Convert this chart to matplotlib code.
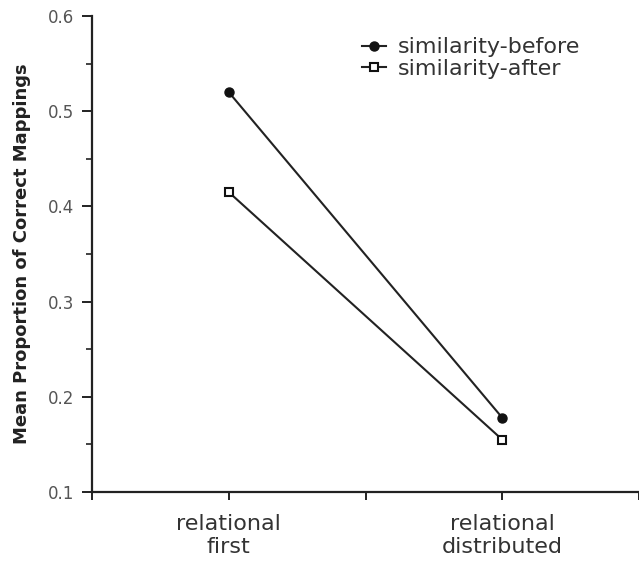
import matplotlib
matplotlib.use("Agg")
from matplotlib import pyplot as plt
import numpy as np

conditions = ["relational\nfirst", "relational\ndistributed"]
sim_before = [0.52, 0.178]
sim_after = [0.415, 0.155]

fig = plt.figure(figsize=(6.39, 5.63), dpi=100)
ax = fig.add_axes([0.144, 0.1261, 0.856, 0.8455])

xs = np.arange(1, len(conditions) + 1)
ax.plot(xs, sim_before, color="#222222", lw=1.5, marker="o", ms=6.5,
        mfc="#111111", mec="#111111", label="similarity-before")
ax.plot(xs, sim_after, color="#222222", lw=1.5, marker="s", ms=6,
        mfc="white", mec="#111111", mew=1.5, label="similarity-after")

ax.set_xlim(0.5, 2.5)
ax.set_ylim(0.1, 0.6)
ax.set_xticks([0.5, 1, 1.5, 2, 2.5])
ax.set_xticklabels(["", conditions[0], "", conditions[1], ""])
ax.set_yticks([0.1, 0.2, 0.3, 0.4, 0.5, 0.6])
ax.set_yticklabels(["0.1", "0.2", "0.3", "0.4", "0.5", "0.6"])
ax.set_yticks(np.arange(0.15, 0.6, 0.1), minor=True)

for s in ["top", "right"]:
    ax.spines[s].set_visible(False)
for s in ["left", "bottom"]:
    ax.spines[s].set_linewidth(1.6)
    ax.spines[s].set_color("#222222")

ax.tick_params(axis="y", which="major", length=7, width=1.4, colors="#222222",
               labelsize=12, labelcolor="#555555", pad=6)
ax.tick_params(axis="y", which="minor", length=4, width=1.2, colors="#222222")
ax.tick_params(axis="x", length=6, width=1.4, colors="#222222",
               labelsize=16, labelcolor="#333333", pad=10)

ax.set_ylabel("Mean Proportion of Correct Mappings", fontsize=13,
              fontweight="bold", color="#222222", labelpad=12)

leg = ax.legend(loc="upper left", bbox_to_anchor=(0.457, 0.997), frameon=False,
                fontsize=16, handlelength=1.1, handletextpad=0.5,
                labelspacing=0.05, labelcolor="#333333")

fig.savefig("out.png", dpi=100)
